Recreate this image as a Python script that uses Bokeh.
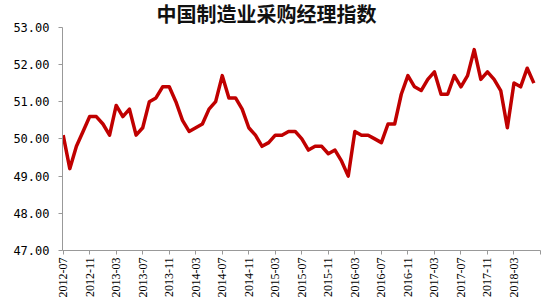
import math
from bokeh.plotting import figure
from bokeh.models import Range1d, FixedTicker, NumeralTickFormatter, ColumnDataSource, Label
from bokeh.embed import file_html
from bokeh.resources import INLINE

title_text = "中国制造业采购经理指数"

# Monthly PMI, 2012-07 .. 2018-06
pmi = [
    50.1, 49.2, 49.8, 50.2, 50.6, 50.6,                                  # 2012-07..12
    50.4, 50.1, 50.9, 50.6, 50.8, 50.1, 50.3, 51.0, 51.1, 51.4, 51.4, 51.0,  # 2013
    50.5, 50.2, 50.3, 50.4, 50.8, 51.0, 51.7, 51.1, 51.1, 50.8, 50.3, 50.1,  # 2014
    49.8, 49.9, 50.1, 50.1, 50.2, 50.2, 50.0, 49.7, 49.8, 49.8, 49.6, 49.7,  # 2015
    49.4, 49.0, 50.2, 50.1, 50.1, 50.0, 49.9, 50.4, 50.4, 51.2, 51.7, 51.4,  # 2016
    51.3, 51.6, 51.8, 51.2, 51.2, 51.7, 51.4, 51.7, 52.4, 51.6, 51.8, 51.6,  # 2017
    51.3, 50.3, 51.5, 51.4, 51.9, 51.5,                                  # 2018-01..06
]

tick_labels = ["2012-07", "2012-11", "2013-03", "2013-07", "2013-11", "2014-03",
               "2014-07", "2014-11", "2015-03", "2015-07", "2015-11", "2016-03",
               "2016-07", "2016-11", "2017-03", "2017-07", "2017-11", "2018-03", ""]

y_ticks = [47, 48, 49, 50, 51, 52, 53]

idx = list(range(len(pmi)))
src = ColumnDataSource(dict(x=idx, y=pmi))

# frame runs to the top of the canvas so the title can sit inside it;
# the y axis line itself is bounded to 47..53
p = figure(width=550, height=300, output_backend="svg", toolbar_location=None,
           x_range=Range1d(-0.1, 72), y_range=Range1d(47, 53.72),
           min_border_left=62, min_border_right=10, min_border_top=0,
           min_border_bottom=48)

title = Label(x=204, y=237, x_units="screen", y_units="screen", text=title_text,
              text_font="Noto Sans CJK SC", text_font_style="bold",
              text_font_size="20px", text_align="center", text_baseline="middle",
              text_color="#111111")
p.add_layout(title)

p.line("x", "y", source=src, line_color="#C00000", line_width=3.5, line_join="round")

p.outline_line_color = None
p.xgrid.grid_line_color = None
p.ygrid.grid_line_color = None

tick_pos = [4 * i for i in range(len(tick_labels))]
p.xaxis.ticker = FixedTicker(ticks=tick_pos)
p.xaxis.major_label_overrides = {t: l for t, l in zip(tick_pos, tick_labels)}
p.xaxis.major_label_orientation = math.pi / 2
p.xaxis.major_label_text_font = "Liberation Sans Narrow"
p.xaxis.major_label_text_font_size = "12px"
p.xaxis.minor_tick_line_color = None
p.xaxis.major_tick_out = 4
p.xaxis.major_tick_in = 0
p.xaxis.major_label_standoff = 3

p.yaxis.ticker = FixedTicker(ticks=y_ticks)
p.yaxis.bounds = (47, 53)
p.yaxis.formatter = NumeralTickFormatter(format="0.00")
p.yaxis.major_label_text_font = "DejaVu Sans Mono"
p.yaxis.major_label_text_font_size = "12px"
p.yaxis.minor_tick_line_color = None
p.yaxis.major_tick_out = 4
p.yaxis.major_tick_in = 0
p.yaxis.major_label_standoff = 9

for ax in (p.xaxis, p.yaxis):
    ax.axis_line_color = "#999999"
    ax.major_tick_line_color = "#999999"
    ax.major_label_text_color = "#000000"

open("out.html", "w").write(file_html(p, INLINE))
